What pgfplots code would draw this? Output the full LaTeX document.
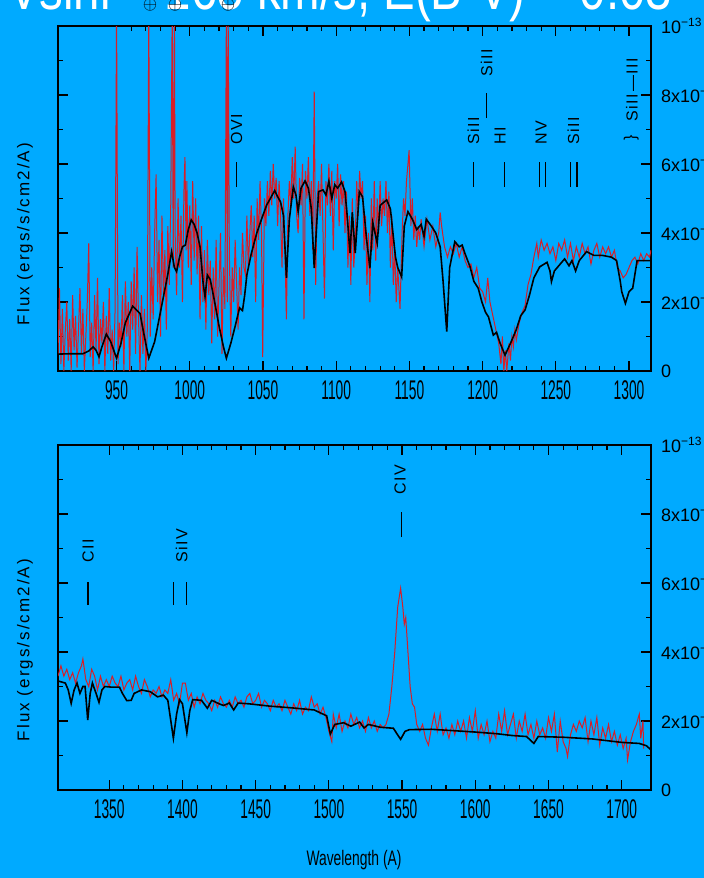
\documentclass[border=0pt]{standalone}
\usepackage{fontspec}
\setmainfont{Liberation Sans}
\newfontfamily\xtf{Liberation Sans}[FakeStretch=0.51]
\newfontfamily\wlf{Liberation Sans}[FakeStretch=0.66]
\newfontfamily\lsf{Liberation Sans}[LetterSpace=12]
\newfontfamily\lnf{Liberation Sans}[LetterSpace=10]
\newfontfamily\ttlf{Liberation Sans}[FakeStretch=0.79]
\usepackage{pgfplots}
\pgfplotsset{compat=1.18}
\definecolor{bg}{RGB}{0,170,255}
\definecolor{obs}{RGB}{215,30,40}

\pgfplotstableread{
x y
910 0.05
911 0.24
912 0.02
913 0.18
914 0.0
915 0.12
916 0.2
917 0.03
918 0.15
919 0.0
920 0.22
921 0.06
922 0.16
923 0.01
924 0.12
925 0.24
926 0.05
927 0.18
928 0.0
929 0.1
930 0.2
931 0.37
932 0.04
933 0.14
934 0.0
935 0.22
936 0.06
937 0.27
938 0.02
939 0.15
940 0.08
941 0.2
942 0.0
943 0.16
944 0.05
945 0.24
946 0.03
947 0.12
948 0.0
949 0.18
950 1.05
951 0.02
952 0.14
953 0.07
954 0.22
955 0.0
956 0.26
957 0.1
958 0.2
959 0.0
960 0.26
961 0.12
962 0.3
963 0.05
964 0.36
965 0.15
966 0.0
967 0.22
968 0.05
969 0.18
970 0.0
971 0.12
972 1.05
973 0.1
974 0.3
975 0.15
976 0.4
977 0.57
978 0.2
979 0.38
980 0.1
981 0.45
982 0.22
983 0.35
984 0.12
985 0.42
986 0.25
987 0.48
988 1.05
988.7 0.3
989.5 1.05
990 0.4
991 0.22
992 0.5
993 0.3
994 0.45
995 0.2
996 0.52
996.7 0.62
997.5 0.35
998 0.55
999 0.3
1000 0.48
1001 0.25
1002 0.55
1003 0.32
1004 0.5
1005 0.28
1006 0.45
1007 0.15
1008 0.42
1009 0.2
1010 0.35
1011 0.12
1012 0.38
1013 0.22
1014 0.32
1015 0.08
1016 0.3
1017 0.15
1018 0.38
1019 0.1
1020 0.25
1021 0.4
1022 0.05
1023 0.3
1024 0.18
1025 1.05
1025.6 0.2
1026.2 1.05
1027 0.35
1028 0.1
1029 0.3
1030 0.2
1031 0.38
1032 0.25
1033 0.12
1034 0.3
1035 0.22
1036 0.4
1037 0.3
1038 0.28
1039 0.45
1040 0.3
1041 0.4
1042 0.48
1043 0.33
1044 0.45
1045 0.2
1046 0.5
1047 0.38
1048 0.55
1049 0.4
1049.8 0.04
1051 0.5
1052 0.42
1053 0.55
1054 0.45
1055 0.58
1056 0.48
1057 0.6
1058 0.5
1059 0.56
1060 0.42
1061 0.55
1062 0.45
1063 0.3
1064 0.5
1065 0.35
1066 0.15
1067 0.45
1068 0.55
1069 0.48
1070 0.62
1071 0.5
1072 0.65
1073 0.45
1074 0.4
1075 0.56
1076 0.48
1077 0.6
1078 0.15
1079 0.58
1080 0.5
1081 0.62
1082 0.45
1083 0.55
1084 0.35
1085 0.81
1086 0.25
1087 0.5
1088 0.55
1089 0.45
1090 0.6
1091 0.4
1092 0.21
1093 0.55
1094 0.48
1095 0.6
1096 0.45
1097 0.58
1098 0.35
1099 0.55
1100 0.5
1101 0.6
1102 0.42
1103 0.57
1104 0.48
1105 0.55
1106 0.4
1107 0.52
1108 0.3
1109 0.45
1110 0.25
1111 0.5
1112 0.3
1113 0.38
1114 0.55
1115 0.45
1116 0.58
1117 0.5
1118 0.55
1119 0.35
1120 0.45
1121 0.25
1122 0.4
1123 0.2
1124 0.5
1125 0.35
1126 0.55
1127 0.32
1128 0.5
1129 0.4
1130 0.55
1131 0.42
1132 0.5
1133 0.45
1134 0.55
1135 0.4
1136 0.52
1137 0.3
1138 0.45
1139 0.25
1140 0.35
1141 0.2
1142 0.3
1143.6 0.18
1145 0.4
1146 0.5
1147 0.45
1148 0.55
1149.8 0.64
1151 0.42
1152 0.5
1153 0.38
1154 0.45
1155 0.36
1156 0.42
1157 0.38
1158 0.44
1159 0.4
1160 0.36
1162 0.44
1164 0.38
1166 0.42
1168 0.36
1170 0.4
1171 0.46
1172 0.42
1174 0.36
1176 0.33
1178 0.36
1180 0.34
1182 0.37
1184 0.33
1186 0.36
1188 0.32
1190 0.3
1192 0.31
1194 0.27
1196 0.3
1198 0.24
1200 0.23
1202 0.2
1203.5 0.27
1205 0.2
1207 0.16
1209 0.12
1211 0.08
1212.5 0.02
1213.5 0.1
1214.5 0.0
1215.5 0.06
1216.5 0.0
1218 0.08
1219 0.03
1220 0.1
1221 0.07
1222 0.12
1223 0.09
1225 0.14
1227 0.17
1229 0.19
1231 0.25
1233 0.28
1235 0.33
1237 0.37
1238 0.33
1240 0.38
1242 0.35
1244 0.37
1246 0.34
1248 0.36
1250 0.32
1252 0.37
1254 0.35
1256 0.38
1258 0.33
1260 0.37
1262 0.32
1264 0.36
1266 0.33
1268 0.37
1270 0.34
1272 0.36
1274 0.31
1276 0.35
1278 0.37
1280 0.33
1282 0.36
1284 0.34
1286 0.36
1288 0.33
1290 0.35
1292 0.3
1294 0.29
1296 0.27
1298 0.28
1300 0.3
1302 0.32
1304 0.33
1306 0.31
1308 0.34
1310 0.32
1312 0.34
1314 0.33
1315 0.35
}\obsA

\pgfplotstableread{
x y
910 0.049
918 0.050
927 0.050
931 0.058
934 0.070
936 0.060
938 0.041
940 0.070
943 0.107
946 0.085
950 0.037
953 0.080
956 0.140
961 0.188
966 0.167
969 0.100
972 0.037
976 0.085
979 0.150
982 0.215
985 0.280
987.6 0.346
989.5 0.300
991 0.288
993 0.330
995 0.360
997 0.365
999 0.410
1001 0.438
1003 0.425
1005 0.400
1007 0.360
1009 0.260
1010.4 0.215
1012 0.278
1014 0.265
1017 0.200
1020 0.130
1023 0.070
1025 0.037
1028 0.080
1031 0.130
1034 0.183
1036 0.175
1037.5 0.220
1039 0.279
1042 0.340
1045.7 0.399
1049 0.440
1052.5 0.481
1055 0.500
1058 0.523
1060 0.505
1062 0.490
1064 0.450
1066 0.270
1068 0.440
1070.7 0.534
1072.5 0.510
1074 0.462
1076 0.530
1078.7 0.551
1081 0.530
1083 0.470
1085 0.298
1087 0.450
1088 0.520
1091 0.525
1093 0.510
1095 0.550
1097 0.500
1099 0.540
1101 0.530
1103.7 0.548
1106 0.520
1107.5 0.450
1109.4 0.342
1111 0.460
1113 0.342
1115.8 0.520
1118 0.505
1120.8 0.380
1123 0.298
1125 0.430
1128 0.370
1130 0.480
1134.5 0.496
1137 0.470
1139 0.390
1140.5 0.330
1142 0.300
1144.7 0.273
1146.5 0.420
1149 0.462
1152 0.440
1155 0.410
1158 0.425
1160 0.390
1161.5 0.440
1165 0.420
1168 0.400
1171 0.360
1173 0.260
1175.5 0.114
1177.5 0.300
1181 0.375
1184 0.360
1186 0.365
1188 0.340
1191.4 0.302
1194 0.260
1197 0.240
1199.5 0.200
1202 0.170
1204 0.157
1207.3 0.104
1209.5 0.112
1212 0.080
1215.3 0.046
1219 0.080
1223 0.120
1226 0.160
1229 0.177
1232 0.220
1235 0.270
1239 0.302
1244 0.315
1246 0.290
1247 0.259
1249 0.290
1253 0.310
1256 0.325
1259 0.305
1261 0.320
1263.5 0.290
1266 0.320
1271 0.346
1276 0.335
1282 0.335
1288 0.330
1291.5 0.320
1294 0.260
1295 0.230
1297.5 0.196
1300 0.230
1302.5 0.240
1305.5 0.320
1309 0.320
1315 0.320
}\modA

\pgfplotstableread{
x y
1315 0.33
1317 0.36
1319 0.33
1321 0.35
1323 0.32
1325 0.34
1327 0.31
1329 0.34
1331 0.36
1332 0.38
1334 0.32
1336 0.30
1338 0.35
1340 0.33
1342 0.29
1344 0.33
1346 0.3
1348 0.32
1350 0.30
1352 0.33
1354 0.31
1356 0.30
1358 0.33
1360 0.29
1362 0.31
1364 0.32
1366 0.29
1368 0.33
1370 0.3
1372 0.28
1374 0.32
1376 0.3
1378 0.27
1380 0.29
1382 0.28
1384 0.3
1386 0.27
1388 0.29
1390 0.28
1392 0.32
1394 0.26
1396 0.28
1398 0.25
1400 0.31
1402 0.31
1404 0.26
1406 0.28
1408 0.24
1410 0.27
1412 0.25
1414 0.28
1416 0.26
1418 0.25
1420 0.23
1422 0.26
1424 0.24
1426 0.27
1428 0.25
1430 0.24
1432 0.26
1434 0.24
1436 0.27
1438 0.25
1440 0.26
1442 0.24
1444 0.27
1446 0.28
1448 0.25
1450 0.26
1452 0.28
1454 0.24
1456 0.26
1458 0.25
1460 0.23
1462 0.26
1464 0.24
1466 0.25
1468 0.23
1470 0.26
1472 0.24
1474 0.22
1476 0.25
1478 0.23
1480 0.26
1482 0.22
1484 0.24
1486 0.23
1488 0.27
1490 0.24
1492 0.25
1494 0.22
1496 0.24
1498 0.21
1500 0.17
1502 0.14
1503 0.22
1505 0.18
1507 0.22
1509 0.17
1511 0.2
1513 0.18
1515 0.22
1517 0.19
1519 0.21
1521 0.18
1523 0.2
1525 0.17
1527 0.21
1529 0.18
1531 0.2
1533 0.17
1535 0.19
1537 0.18
1539 0.19
1541 0.22
1543 0.3
1545 0.4
1547 0.53
1549 0.585
1550.5 0.53
1551.5 0.48
1552.5 0.5
1554 0.4
1555.5 0.3
1557 0.25
1558.5 0.24
1560 0.19
1562 0.17
1564 0.19
1566 0.15
1568 0.13
1570 0.18
1572 0.22
1574 0.17
1576 0.22
1578 0.16
1580 0.18
1582 0.15
1584 0.19
1586 0.16
1588 0.2
1590 0.17
1592 0.2
1594 0.15
1596 0.21
1598 0.17
1600 0.23
1602 0.15
1604 0.19
1606 0.16
1608 0.2
1610 0.14
1612 0.17
1614 0.15
1616 0.22
1618 0.17
1620 0.23
1622 0.16
1624 0.19
1626 0.22
1628 0.15
1630 0.2
1632 0.17
1634 0.22
1636 0.16
1638 0.19
1640 0.15
1642 0.2
1644 0.16
1646 0.18
1648 0.15
1650 0.21
1652 0.17
1654 0.22
1656 0.11
1658 0.2
1660 0.14
1662 0.12
1663 0.097
1665 0.16
1667 0.19
1669 0.17
1671 0.2
1673 0.18
1675 0.21
1677 0.14
1679 0.2
1681 0.16
1683 0.21
1685 0.13
1687 0.18
1689 0.15
1691 0.19
1693 0.14
1695 0.17
1697 0.13
1699 0.16
1701 0.12
1703 0.15
1704 0.087
1706 0.14
1708 0.17
1710 0.19
1712 0.22
1713 0.15
1714.5 0.2
1715 0.12
}\obsB

\pgfplotstableread{
x y
1315 0.316
1320 0.31
1322 0.29
1324 0.251
1326 0.29
1328 0.31
1330 0.28
1332 0.30
1333.5 0.30
1335.3 0.203
1337 0.28
1338.5 0.31
1341 0.28
1343 0.254
1345 0.29
1347 0.30
1352 0.298
1357 0.298
1359 0.28
1362 0.259
1365 0.26
1367 0.28
1372 0.29
1378 0.285
1383 0.27
1387 0.275
1390 0.26
1393.8 0.150
1396 0.22
1398 0.262
1400 0.25
1403 0.166
1405 0.23
1407 0.262
1413 0.26
1417 0.237
1420 0.26
1425 0.25
1428 0.245
1432 0.252
1435 0.232
1438 0.252
1445 0.25
1460 0.243
1475 0.238
1490 0.232
1498.5 0.215
1501 0.162
1504 0.19
1510 0.195
1515 0.185
1521 0.197
1524 0.18
1527 0.19
1535 0.182
1544 0.179
1549 0.147
1552 0.17
1555 0.175
1570 0.176
1585 0.172
1600 0.168
1615 0.163
1625 0.158
1635 0.155
1640 0.135
1643 0.155
1660 0.153
1680 0.148
1700 0.138
1712 0.135
1717 0.128
1720 0.116
}\modB

\pgfplotsset{
  spec/.style={
    scale only axis, width=296.5pt, height=172.5pt,
    anchor=north west,
    ymin=0, ymax=1,
    axis line style={line width=1pt, black},
    every tick/.style={black, line width=0.6pt},
    major tick length=5pt, minor tick length=2.5pt,
    minor x tick num=4,
    xtick pos=both, ytick pos=both,
    ytick={0,0.2,0.4,0.6,0.8,1}, minor ytick={0.1,0.3,0.5,0.7,0.9},
    yticklabel pos=right,
    yticklabels={0,2x10\textsuperscript{−14},4x10\textsuperscript{−14},6x10\textsuperscript{−14},8x10\textsuperscript{−14},10\textsuperscript{−13}},
    /pgf/number format/assume math mode=true,
    /pgf/number format/1000 sep={},
    xticklabel style={font=\xtf\fontsize{13.5}{15}\selectfont, yshift=-1.5pt},
    yticklabel style={font=\fontsize{9}{10}\selectfont, xshift=1.5pt},
    clip=true,
  },
}
\tikzset{
  lab/.style={rotate=90, anchor=west, inner sep=0pt, font=\lnf\fontsize{8}{9}\selectfont},
}

\begin{document}
\begin{tikzpicture}
\fill[bg] (0,0) rectangle (352pt,-439pt);
% title
\node[anchor=base, inner sep=0pt, white, font=\ttlf\fontsize{30}{32}\selectfont] at (170pt,-4.8pt) {Vsini = 165 km/s, E(B-V) = 0.03};
\node[inner sep=0pt, font=\small] at (75pt,-2.5pt) {$\oplus$};
\node[inner sep=0pt, font=\small] at (87.5pt,-2.5pt) {$\oplus$};
\node[inner sep=0pt, font=\small] at (114pt,-2.5pt) {$\oplus$};

\begin{axis}[spec, at={(29pt,-13pt)}, xmin=910, xmax=1315,
  xtick={950,1000,1050,1100,1150,1200,1250,1300}]
\addplot[obs, line width=0.5pt] table[x=x,y=y] {\obsA};
\addplot[black, line width=0.8pt] table[x=x,y=y] {\modA};
\draw[line width=0.6pt] (axis cs:1032,0.533) -- (axis cs:1032,0.606);
\node[lab] at (axis cs:1032,0.655) {OVI};
\draw[line width=0.6pt] (axis cs:1193.7,0.533) -- (axis cs:1193.7,0.606);
\node[lab] at (axis cs:1193.7,0.655) {SiII};
\draw[line width=0.6pt] (axis cs:1202.8,0.733) -- (axis cs:1202.8,0.806);
\node[lab] at (axis cs:1202.8,0.852) {SiII};
\draw[line width=0.6pt] (axis cs:1215,0.533) -- (axis cs:1215,0.606);
\node[lab] at (axis cs:1212,0.655) {HI};
\draw[line width=0.6pt] (axis cs:1238.8,0.533) -- (axis cs:1238.8,0.606);
\draw[line width=0.6pt] (axis cs:1242.8,0.533) -- (axis cs:1242.8,0.606);
\node[lab] at (axis cs:1240,0.655) {NV};
\draw[line width=0.6pt] (axis cs:1260,0.533) -- (axis cs:1260,0.606);
\draw[line width=0.6pt] (axis cs:1264.5,0.533) -- (axis cs:1264.5,0.606);
\node[lab] at (axis cs:1262,0.655) {SiII};
\node[rotate=90, inner sep=0pt, font=\fontsize{8}{9}\selectfont] at (axis cs:1301.5,0.675) {\}};
\node[lab] at (axis cs:1302,0.722) {SiII—III};
\end{axis}

\begin{axis}[spec, at={(29pt,-222.5pt)}, xmin=1315, xmax=1720,
  xtick={1350,1400,1450,1500,1550,1600,1650,1700}]
\addplot[obs, line width=0.5pt] table[x=x,y=y] {\obsB};
\addplot[black, line width=0.8pt] table[x=x,y=y] {\modB};
\draw[line width=0.6pt] (axis cs:1335.5,0.536) -- (axis cs:1335.5,0.603);
\node[lab] at (axis cs:1335.5,0.658) {CII};
\draw[line width=0.6pt] (axis cs:1393.8,0.536) -- (axis cs:1393.8,0.603);
\draw[line width=0.6pt] (axis cs:1402.9,0.536) -- (axis cs:1402.9,0.603);
\node[lab] at (axis cs:1399.5,0.658) {SiIV};
\draw[line width=0.6pt] (axis cs:1549.5,0.733) -- (axis cs:1549.5,0.806);
\node[lab] at (axis cs:1548.6,0.855) {CIV};
\end{axis}

\node[rotate=90, font=\lsf\fontsize{8.5}{10}\selectfont] at (12.5pt,-117pt) {Flux (ergs/s/cm2/A)};
\node[rotate=90, font=\lsf\fontsize{8.5}{10}\selectfont] at (12.5pt,-325pt) {Flux (ergs/s/cm2/A)};
\node[font=\wlf\fontsize{10.5}{12}\selectfont] at (177pt,-430pt) {Wavelength (A)};

\pgfresetboundingbox
\useasboundingbox (0,0) rectangle (352pt,-439pt);
\end{tikzpicture}
\end{document}
